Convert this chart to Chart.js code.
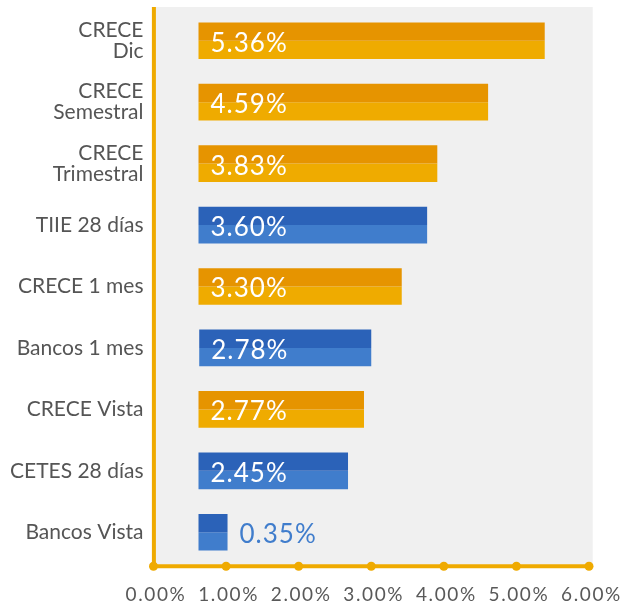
<!DOCTYPE html>
<html>
<head>
<meta charset="utf-8">
<script src="https://cdn.jsdelivr.net/npm/chart.js@4/dist/chart.umd.min.js"></script>
<style>
html,body{margin:0;padding:0;background:#fff;}
#wrap{width:623px;height:607px;position:relative;}
</style>
</head>
<body>
<div id="wrap"><canvas id="c" width="623" height="607"></canvas></div>
<script>
// Categories (top to bottom)
const categories = [
  ["CRECE", "Dic"],
  ["CRECE", "Semestral"],
  ["CRECE", "Trimestral"],
  "TIIE 28 días",
  "CRECE 1 mes",
  "Bancos 1 mes",
  "CRECE Vista",
  "CETES 28 días",
  "Bancos Vista"
];
// Value labels shown on the bars
const rateLabels = [5.36, 4.59, 3.83, 3.60, 3.30, 2.78, 2.77, 2.45, 0.35];
// Bar extents as drawn on the axis (start / end, in % axis units)
const barStart = [0.62, 0.62, 0.62, 0.62, 0.62, 0.63, 0.62, 0.62, 0.62];
const barEnd   = [5.39, 4.61, 3.91, 3.77, 3.42, 3.00, 2.90, 2.68, 1.02];
// Instrument family (decides colour)
const family = ["crece", "crece", "crece", "ref", "crece", "ref", "crece", "ref", "ref"];
// X axis ticks
const xTicks = [0, 1, 2, 3, 4, 5, 6];

const COL = {
  crece: { dark: "#E69400", light: "#EFAB00" },
  ref:   { dark: "#2B62B8", light: "#407DCC" }
};
const AXIS = "#EFAA00";

const ranges = barStart.map((s, i) => [s, barEnd[i]]);

const plotBg = {
  id: "plotBg",
  beforeDraw(chart) {
    const { ctx, chartArea: a } = chart;
    ctx.save();
    ctx.fillStyle = "#F0F0F0";
    ctx.fillRect(a.left, a.top - 3, a.right - a.left + 3.7, a.bottom - a.top + 6);
    ctx.restore();
  },
  afterDatasetsDraw(chart) {
    const { ctx, chartArea: a } = chart;
    const xs = chart.scales.x;
    const yLine = a.bottom + 3.3;
    ctx.save();
    ctx.strokeStyle = AXIS;
    ctx.lineWidth = 4;
    ctx.beginPath();
    ctx.moveTo(a.left + 0.4, a.top - 3);
    ctx.lineTo(a.left + 0.4, yLine);
    ctx.lineTo(xs.getPixelForValue(xTicks[xTicks.length - 1]), yLine);
    ctx.stroke();
    ctx.fillStyle = AXIS;
    xTicks.forEach(v => {
      ctx.beginPath();
      ctx.arc(xs.getPixelForValue(v), yLine, 4.5, 0, Math.PI * 2);
      ctx.fill();
    });
    // x tick labels
    ctx.font = "19px Lato";
    ctx.letterSpacing = "1.6px";
    ctx.fillStyle = "#595959";
    ctx.textAlign = "center";
    ctx.textBaseline = "middle";
    xTicks.forEach(v => {
      ctx.fillText(v.toFixed(2) + "%", xs.getPixelForValue(v) + 2.5, a.bottom + 32);
    });
    // value labels
    const m0 = chart.getDatasetMeta(0).data;
    const m1 = chart.getDatasetMeta(1).data;
    ctx.font = "26px Lato";
    ctx.letterSpacing = "1px";
    ctx.textBaseline = "middle";
    ctx.textAlign = "left";
    rateLabels.forEach((v, i) => {
      const b0 = m0[i], b1 = m1[i];
      const top = b0.y - b0.height / 2;
      const bot = b1.y + b1.height / 2;
      const cy = (top + bot) / 2 + 2.5;
      const txt = v.toFixed(2) + "%";
      const w = ctx.measureText(txt).width;
      const start = Math.min(b0.base, b0.x);
      const end = Math.max(b0.base, b0.x);
      if (end - start > w + 20) {
        ctx.fillStyle = "#FFFFFF";
        ctx.fillText(txt, start + 12, cy);
      } else {
        ctx.fillStyle = COL.ref.light;
        ctx.fillText(txt, end + 12, cy);
      }
    });
    ctx.letterSpacing = "0px";
    ctx.restore();
  }
};

new Chart(document.getElementById("c"), {
  type: "bar",
  data: {
    labels: categories,
    datasets: [
      {
        data: ranges,
        backgroundColor: family.map(f => COL[f].dark),
        borderWidth: 0,
        barPercentage: 1,
        categoryPercentage: 0.597
      },
      {
        data: ranges,
        backgroundColor: family.map(f => COL[f].light),
        borderWidth: 0,
        barPercentage: 1,
        categoryPercentage: 0.597
      }
    ]
  },
  options: {
    indexAxis: "y",
    responsive: false,
    animation: false,
    devicePixelRatio: 1,
    layout: { padding: { top: 10, right: 34, left: 0, bottom: 0 } },
    plugins: { legend: { display: false }, tooltip: { enabled: false } },
    scales: {
      x: {
        type: "linear",
        min: 0,
        max: 6,
        afterFit(s) { s.height = 44; s.paddingLeft = 0; s.paddingRight = 0; },
        afterBuildTicks(s) { s.ticks = xTicks.map(v => ({ value: v })); },
        grid: { display: false, drawTicks: false },
        border: { display: false },
        ticks: { display: false }
      },
      y: {
        afterFit(s) { s.width = 153.5; s.paddingTop = 0; s.paddingBottom = 0; },
        grid: { display: false, drawTicks: false },
        border: { display: false },
        ticks: {
          padding: 10,
          color: "#555555",
          font: { family: "Lato", size: 21, lineHeight: 1.0 }
        }
      }
    }
  },
  plugins: [plotBg]
});
</script>
</body>
</html>
